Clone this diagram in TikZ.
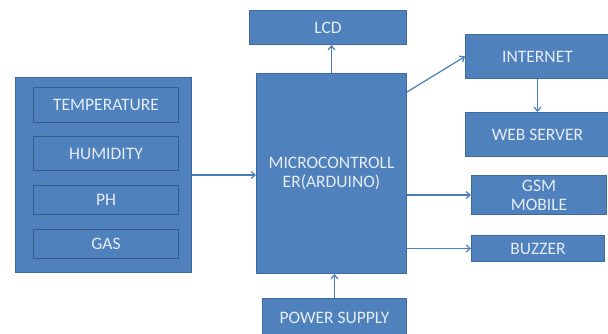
\documentclass[tikz,border=0pt]{standalone}
\usepackage{fontspec}
\setmainfont{Carlito}
\usetikzlibrary{arrows.meta,calc}
\definecolor{boxfill}{HTML}{4F81BD}
\definecolor{boxline}{HTML}{3C6A9F}
\definecolor{innerline}{HTML}{385D8A}
\definecolor{arrowcol}{HTML}{4A7EBB}
\definecolor{txt}{HTML}{E6ECF5}
\begin{document}
\begin{tikzpicture}[x=1pt,y=-1pt,
  blk/.style={draw=boxline,line width=1pt,fill=boxfill,text=txt,inner sep=0pt,
    anchor=north west,font=\fontsize{17.5}{19}\selectfont,align=center},
  inblk/.style={blk,draw=innerline},
  conn/.style={draw=arrowcol,line width=1.2pt,-{Straight Barb[length=4pt,width=7pt]}}]
\useasboundingbox (0,0) rectangle (608,334);
\clip (0,0) rectangle (608,334);
\fill[white] (0,0) rectangle (608,334);
% sensors
\node[blk,minimum width=176pt,minimum height=195pt] (sens) at (15,77) {};
\node[inblk,minimum width=145pt,minimum height=35pt] (temp) at (33,87) {TEMPERATURE};
\node[inblk,minimum width=145pt,minimum height=34pt] (hum) at (33,136) {HUMIDITY};
\node[inblk,minimum width=145pt,minimum height=29pt] (ph) at (33,185) {PH};
\node[inblk,minimum width=145pt,minimum height=29pt] (gas) at (33,229) {GAS};
% microcontroller
\node[blk,minimum width=150pt,minimum height=200pt] (mc) at (256,73) {MICROCONTROLL\\ER(ARDUINO)};
\node[blk,minimum width=157pt,minimum height=34pt] (lcd) at (249,10) {LCD};
\node[blk,minimum width=144pt,minimum height=38pt] (ps) at (262,298) {POWER SUPPLY};
% right side
\node[blk,minimum width=144pt,minimum height=44pt] (inet) at (465,34) {INTERNET};
\node[blk,minimum width=144pt,minimum height=44pt] (web) at (465,112) {WEB SERVER};
\node[blk,minimum width=135pt,minimum height=39pt] (gsm) at (471,175) {GSM\\MOBILE};
\node[blk,minimum width=133pt,minimum height=26pt] (buz) at (471,235) {BUZZER};
% connectors
\draw[conn] (sens.east) -- (sens.east -| mc.west);
\draw[conn] (mc.north) -- (mc.north |- lcd.south);
\draw[conn] (ps.north) -- (ps.north |- mc.south);
\coordinate (mcout) at ($(mc.north east)+(0,19)$);
\draw[conn] (mcout) -- (inet.west);
\draw[conn] (inet.south) -- (web.north);
\draw[conn] (gsm.west -| mc.east) -- (gsm.west);
\draw[conn] (buz.west -| mc.east) -- (buz.west);
\end{tikzpicture}
\end{document}
